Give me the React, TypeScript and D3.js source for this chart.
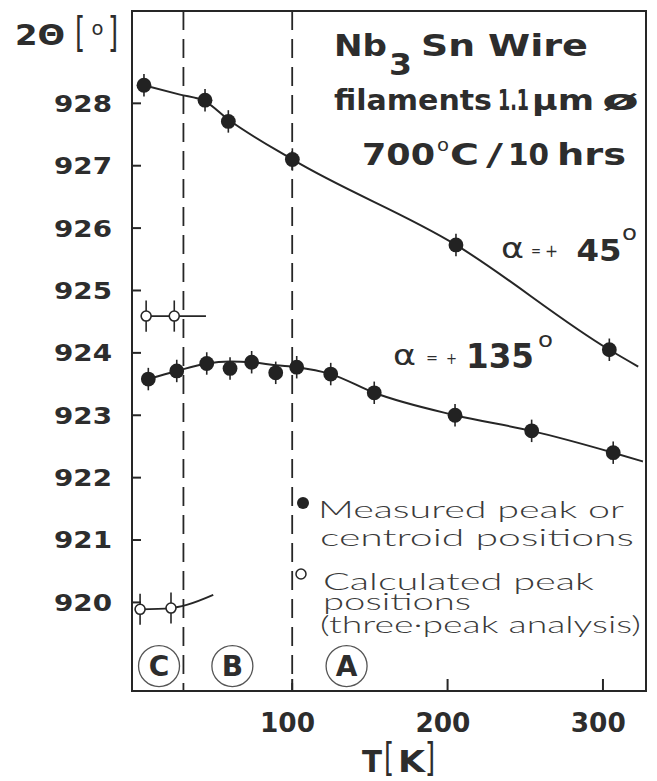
import React from 'react';
import * as d3 from 'd3';

const W = 657;
const H = 781;

// ---------- axis definitions ----------
const xDomain = [-3.1, 327.7];
const yDomain = [918.58, 929.48];
const xTicks = [100, 200, 300];
const yTicks = [920, 921, 922, 923, 924, 925, 926, 927, 928];
const regionBounds = [30, 100];
const regionLabels = ['C', 'B', 'A'];
const regionLabelT = [14.3, 61.5, 135];
const regionLabelV = 918.98;

// ---------- alpha = +45 deg (measured) ----------
const t45 = [4.6, 43.9, 58.9, 100.1, 205.4, 304.1];
const v45 = [928.29, 928.05, 927.71, 927.1, 925.73, 924.05];
const fitT45 = [4.6, 27.8, 43.9, 58.9, 100.1, 205.4, 304.1, 322.7];
const fitV45 = [928.29, 928.14, 928.03, 927.74, 927.1, 925.73, 924.05, 923.78];

// ---------- alpha = +135 deg (measured) ----------
const t135 = [7.4, 25.7, 45.0, 60.0, 73.9, 89.4, 102.9, 124.8, 152.8, 204.8, 254.1, 306.6];
const v135 = [923.58, 923.71, 923.83, 923.75, 923.85, 923.68, 923.77, 923.66, 923.36, 923.0, 922.75, 922.4];
const fitT135 = [7.4, 25.7, 45.0, 60.0, 73.9, 89.4, 102.9, 124.8, 152.8, 204.8, 254.1, 306.6, 325.7];
const fitV135 = [923.58, 923.71, 923.83, 923.86, 923.85, 923.8, 923.77, 923.66, 923.36, 923.0, 922.75, 922.4, 922.26];

// ---------- calculated (three-peak analysis) ----------
const tCalcUpper = [6.0, 24.1];
const vCalcUpper = [924.59, 924.59];
const fitTUpper = [6.0, 24.1, 44.5];
const fitVUpper = [924.59, 924.59, 924.59];
const tCalcLower = [2.1, 22.0];
const vCalcLower = [919.89, 919.91];
const fitTLower = [2.1, 22.0, 32.1, 49.2];
const fitVLower = [919.89, 919.91, 919.96, 920.12];

const errMeasured = 0.18;
const errCalc = 0.25;

const INK = '#262626';
const TXT = '#2d2d2d';
const BOLD = "'DejaVu Sans', sans-serif";
const LEG = "'DejaVu Sans', sans-serif";
const THIN = "Lato, 'DejaVu Sans', sans-serif";

const zip = (a: number[], b: number[]) => a.map((t, i) => [t, b[i]] as [number, number]);

function Txt(props: any) {
  const { x, y, w, fs, fw = 'bold', fam = BOLD, fill = TXT, children, ...rest } = props;
  return (
    <text
      x={x}
      y={y}
      fontSize={fs}
      fontWeight={fw}
      fontFamily={fam}
      fill={fill}
      textLength={w}
      lengthAdjust="spacingAndGlyphs"
      {...rest}
    >
      {children}
    </text>
  );
}

function Bracket({ x, y, ch, s = 1.6 }: { x: number; y: number; ch: string; s?: number }) {
  return (
    <text
      transform={`translate(${x},${y}) scale(1,${s})`}
      fontSize={26}
      fontFamily={LEG}
      fontWeight="normal"
      fill={TXT}
    >
      {ch}
    </text>
  );
}

export default function App() {
  const x = d3.scaleLinear().domain(xDomain).range([132, 646]);
  const y = d3.scaleLinear().domain(yDomain).range([691, 11]);

  const line = d3
    .line<[number, number]>()
    .x((d) => x(d[0]))
    .y((d) => y(d[1]))
    .curve(d3.curveMonotoneX);

  const [x0, x1] = x.range();
  const [yb, yt] = y.range();

  const measured = [...zip(t45, v45), ...zip(t135, v135)];
  const calc = [...zip(tCalcUpper, vCalcUpper), ...zip(tCalcLower, vCalcLower)];

  return (
    <svg
      width={W}
      height={H}
      viewBox={`0 0 ${W} ${H}`}
      style={{ position: 'absolute', left: 0, top: 0, background: '#fff' }}
    >
      <rect x={0} y={0} width={W} height={H} fill="#fff" />

      {/* dashed region boundaries */}
      {regionBounds.map((b) => (
        <line
          key={b}
          x1={x(b)}
          x2={x(b)}
          y1={yt}
          y2={yb}
          stroke={INK}
          strokeWidth={1.8}
          strokeDasharray="19 9"
        />
      ))}

      {/* frame */}
      <rect x={x0} y={yt} width={x1 - x0} height={yb - yt} fill="none" stroke={INK} strokeWidth={2} />

      {/* y ticks */}
      {yTicks.map((v) => (
        <g key={v}>
          <line x1={x0} x2={x0 + 9} y1={y(v)} y2={y(v)} stroke={INK} strokeWidth={2} />
          <Txt x={54} y={y(v) + 8.4} w={58} fs={23}>
            {String(v)}
          </Txt>
        </g>
      ))}

      {/* x ticks */}
      {xTicks.map((v) => (
        <g key={v}>
          <line x1={x(v)} x2={x(v)} y1={yb} y2={yb - 12} stroke={INK} strokeWidth={2} />
          <Txt x={x(v) - 4.7 - 27.5} y={731.7} w={55} fs={27}>
            {String(v)}
          </Txt>
        </g>
      ))}

      {/* axis titles */}
      <Txt x={15} y={45} w={50} fs={27.5}>
        2Θ
      </Txt>
      <Bracket x={75} y={46} ch="[" />
      <Txt x={91.5} y={35} w={12} fs={20} fw="normal" fam={LEG}>
        o
      </Txt>
      <Bracket x={108} y={46} ch="]" />

      <Txt x={362} y={772} w={20} fs={30}>
        T
      </Txt>
      <Bracket x={384} y={771} ch="[" s={1.5} />
      <Txt x={398} y={772} w={27} fs={30}>
        K
      </Txt>
      <Bracket x={425} y={771} ch="]" s={1.5} />

      {/* fitted curves */}
      <path d={line(zip(fitT45, fitV45)) || ''} fill="none" stroke={INK} strokeWidth={2} />
      <path d={line(zip(fitT135, fitV135)) || ''} fill="none" stroke={INK} strokeWidth={2} />
      <path d={line(zip(fitTUpper, fitVUpper)) || ''} fill="none" stroke={INK} strokeWidth={1.8} />
      <path d={line(zip(fitTLower, fitVLower)) || ''} fill="none" stroke={INK} strokeWidth={1.8} />

      {/* measured points */}
      {measured.map(([t, v], i) => (
        <g key={'m' + i}>
          <line
            x1={x(t)}
            x2={x(t)}
            y1={y(v + errMeasured)}
            y2={y(v - errMeasured)}
            stroke={INK}
            strokeWidth={1.6}
          />
          <circle cx={x(t)} cy={y(v)} r={7.4} fill="#222" />
        </g>
      ))}

      {/* calculated points */}
      {calc.map(([t, v], i) => (
        <g key={'c' + i}>
          <line
            x1={x(t)}
            x2={x(t)}
            y1={y(v + errCalc)}
            y2={y(v - errCalc)}
            stroke={INK}
            strokeWidth={1.6}
          />
          <circle cx={x(t)} cy={y(v)} r={5} fill="#fff" stroke={INK} strokeWidth={1.6} />
        </g>
      ))}

      {/* region labels */}
      {regionLabels.map((l, i) => (
        <g key={l}>
          <circle
            cx={x(regionLabelT[i])}
            cy={y(regionLabelV)}
            r={20.5}
            fill="none"
            stroke="#555"
            strokeWidth={1.3}
          />
          <text
            x={x(regionLabelT[i])}
            y={y(regionLabelV) + 10}
            textAnchor="middle"
            fontSize={28}
            fontWeight="bold"
            fontFamily={BOLD}
            fill={TXT}
          >
            {l}
          </text>
        </g>
      ))}

      {/* title block */}
      <Txt x={334} y={56} w={53} fs={30}>
        Nb
      </Txt>
      <Txt x={389} y={75} w={23} fs={30}>
        3
      </Txt>
      <Txt x={421} y={56} w={54} fs={30}>
        Sn
      </Txt>
      <Txt x={488} y={56} w={100} fs={30}>
        Wire
      </Txt>

      <Txt x={334} y={110} w={158} fs={29}>
        filaments
      </Txt>
      <Txt x={498} y={110} w={31} fs={29}>
        1.1
      </Txt>
      <Txt x={532} y={110} w={62} fs={29}>
        μm
      </Txt>
      <Txt x={602} y={110} w={37} fs={29}>
        ø
      </Txt>

      <Txt x={362} y={165} w={73} fs={30}>
        700
      </Txt>
      <Txt x={437} y={151} w={12} fs={17} fw="normal" fam={LEG}>
        o
      </Txt>
      <Txt x={450} y={165} w={29} fs={30}>
        C
      </Txt>
      <Txt x={486} y={165} w={17} fs={30} fw="normal" fam={LEG}>
        /
      </Txt>
      <Txt x={508} y={165} w={41} fs={30}>
        10
      </Txt>
      <Txt x={557} y={165} w={69} fs={30}>
        hrs
      </Txt>

      {/* alpha = +45 label */}
      <Txt x={501} y={258} w={23} fs={28} fw="normal" fam={LEG}>
        α
      </Txt>
      <Txt x={531} y={256} w={10} fs={15} fw="normal" fam={LEG}>
        =
      </Txt>
      <Txt x={545} y={257} w={13} fs={17} fw="normal" fam={LEG}>
        +
      </Txt>
      <Txt x={576.5} y={261} w={45} fs={31}>
        45
      </Txt>
      <Txt x={622} y={240} w={15} fs={22} fw="normal" fam={LEG}>
        o
      </Txt>

      {/* alpha = +135 label */}
      <Txt x={393} y={365} w={23} fs={28} fw="normal" fam={LEG}>
        α
      </Txt>
      <Txt x={426} y={363} w={12} fs={15} fw="normal" fam={LEG}>
        =
      </Txt>
      <Txt x={446} y={364} w={11} fs={15} fw="normal" fam={LEG}>
        +
      </Txt>
      <Txt x={466} y={368} w={68} fs={33}>
        135
      </Txt>
      <Txt x={538} y={347} w={15} fs={22} fw="normal" fam={LEG}>
        o
      </Txt>

      {/* legend */}
      <circle cx={303} cy={503} r={6} fill="#222" />
      <Txt x={318} y={518} w={306} fs={23} fw={300} fam={THIN} fill="#3a3a3a">
        Measured peak or
      </Txt>
      <Txt x={320} y={546} w={314} fs={23} fw={300} fam={THIN} fill="#3a3a3a">
        centroid positions
      </Txt>
      <circle cx={301} cy={574} r={5} fill="#fff" stroke={INK} strokeWidth={1.5} />
      <Txt x={323} y={590} w={271} fs={23} fw={300} fam={THIN} fill="#3a3a3a">
        Calculated peak
      </Txt>
      <Txt x={323} y={610} w={148} fs={23} fw={300} fam={THIN} fill="#3a3a3a">
        positions
      </Txt>
      <Txt x={320} y={633} w={321} fs={23} fw={300} fam={THIN} fill="#3a3a3a">
        (three·peak analysis)
      </Txt>
    </svg>
  );
}
